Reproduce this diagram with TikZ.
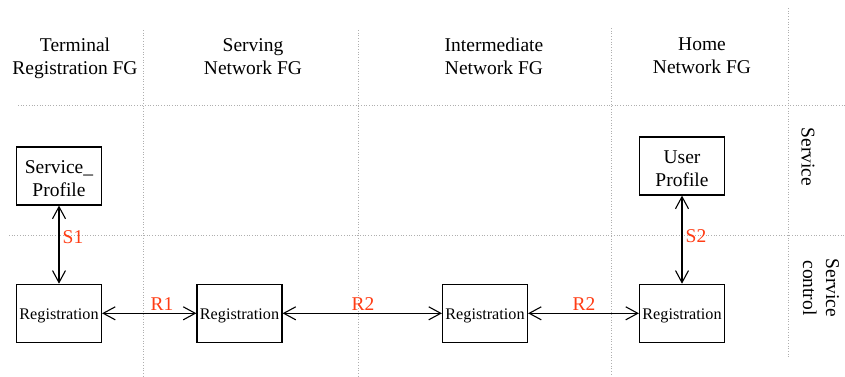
\documentclass[tikz,border=0pt]{standalone}
\usepackage{fontspec}
\setmainfont{Liberation Serif}
\usetikzlibrary{arrows.meta}
\definecolor{lbl}{RGB}{255,60,20}
\definecolor{grid}{RGB}{175,175,175}
\tikzset{
  box/.style={draw, line width=1.2pt, minimum width=85pt, minimum height=58pt, inner sep=1pt},
  boxtext/.style={align=center, inner sep=0pt, font=\fontsize{19.5}{23}\selectfont},
  regtext/.style={inner sep=0pt, font=\fontsize{16.2}{19}\selectfont},
  biarrow/.style={line width=1.2pt, {Straight Barb[length=12pt,width=13pt,line width=1.1pt]}-{Straight Barb[length=12pt,width=13pt,line width=1.1pt]}},
  lab/.style={text=lbl, font=\fontsize{19.5}{23}\selectfont, inner sep=0pt},
  head/.style={align=center, font=\fontsize{19.5}{23}\selectfont, inner sep=0pt},
  sep/.style={draw=grid, dotted, line width=0.7pt}
}
\begin{document}
\begin{tikzpicture}[x=1pt,y=-1pt]
\useasboundingbox (0,0) rectangle (845,376);
% separators
\draw[sep] (143,30) -- (143,376);
\draw[sep] (358,30) -- (358,376);
\draw[sep] (611,28) -- (611,376);
\draw[sep] (788,8) -- (788,358);
\draw[sep] (18,105) -- (845,105);
\draw[sep] (9,235) -- (845,235);
% headers
\node[head, anchor=north] (h1) at (75,38) {Terminal\\Registration FG};
\node[head, anchor=north] (h2) at (253,38) {Serving\\Network FG};
\node[head, anchor=north] (h3) at (494,38) {Intermediate\\Network FG};
\node[head, anchor=north] (h4) at (702,38) {Home\\Network FG};
% lane labels
\node[head, rotate=-90] (l1) at (808,157) {Service};
\node[head, rotate=-90] (l2) at (821,288) {Service\\control};
% boxes
\node[box] (sp) at (59,176) {};
\node[boxtext] (spt) at ([yshift=-2.5pt]sp.center) {Service\_\\Profile};
\node[box] (up) at (682,166) {};
\node[boxtext] (upt) at ([yshift=-2.5pt]up.center) {User\\Profile};
\node[box] (r1) at (59,313.3) {};
\node[box] (r2) at (239.5,313.3) {};
\node[box] (r3) at (485,313.3) {};
\node[box] (r4) at (682,313.3) {};
\foreach \n in {r1,r2,r3,r4}
  \node[regtext] (\n t) at ([yshift=-2.5pt]\n.center) {Registration};
% connectors
\draw[biarrow] (sp) -- (r1);
\draw[biarrow] (up) -- (r4);
\draw[biarrow] (r1) -- (r2);
\draw[biarrow] (r2) -- (r3);
\draw[biarrow] (r3) -- (r4);
% labels
\node[lab] (s1) at (73,237) {S1};
\node[lab] (s2) at (696,236) {S2};
\node[lab] (x1) at (162,304) {R1};
\node[lab] (x2) at (363,304) {R2};
\node[lab] (x3) at (584,304) {R2};
\end{tikzpicture}
\end{document}
